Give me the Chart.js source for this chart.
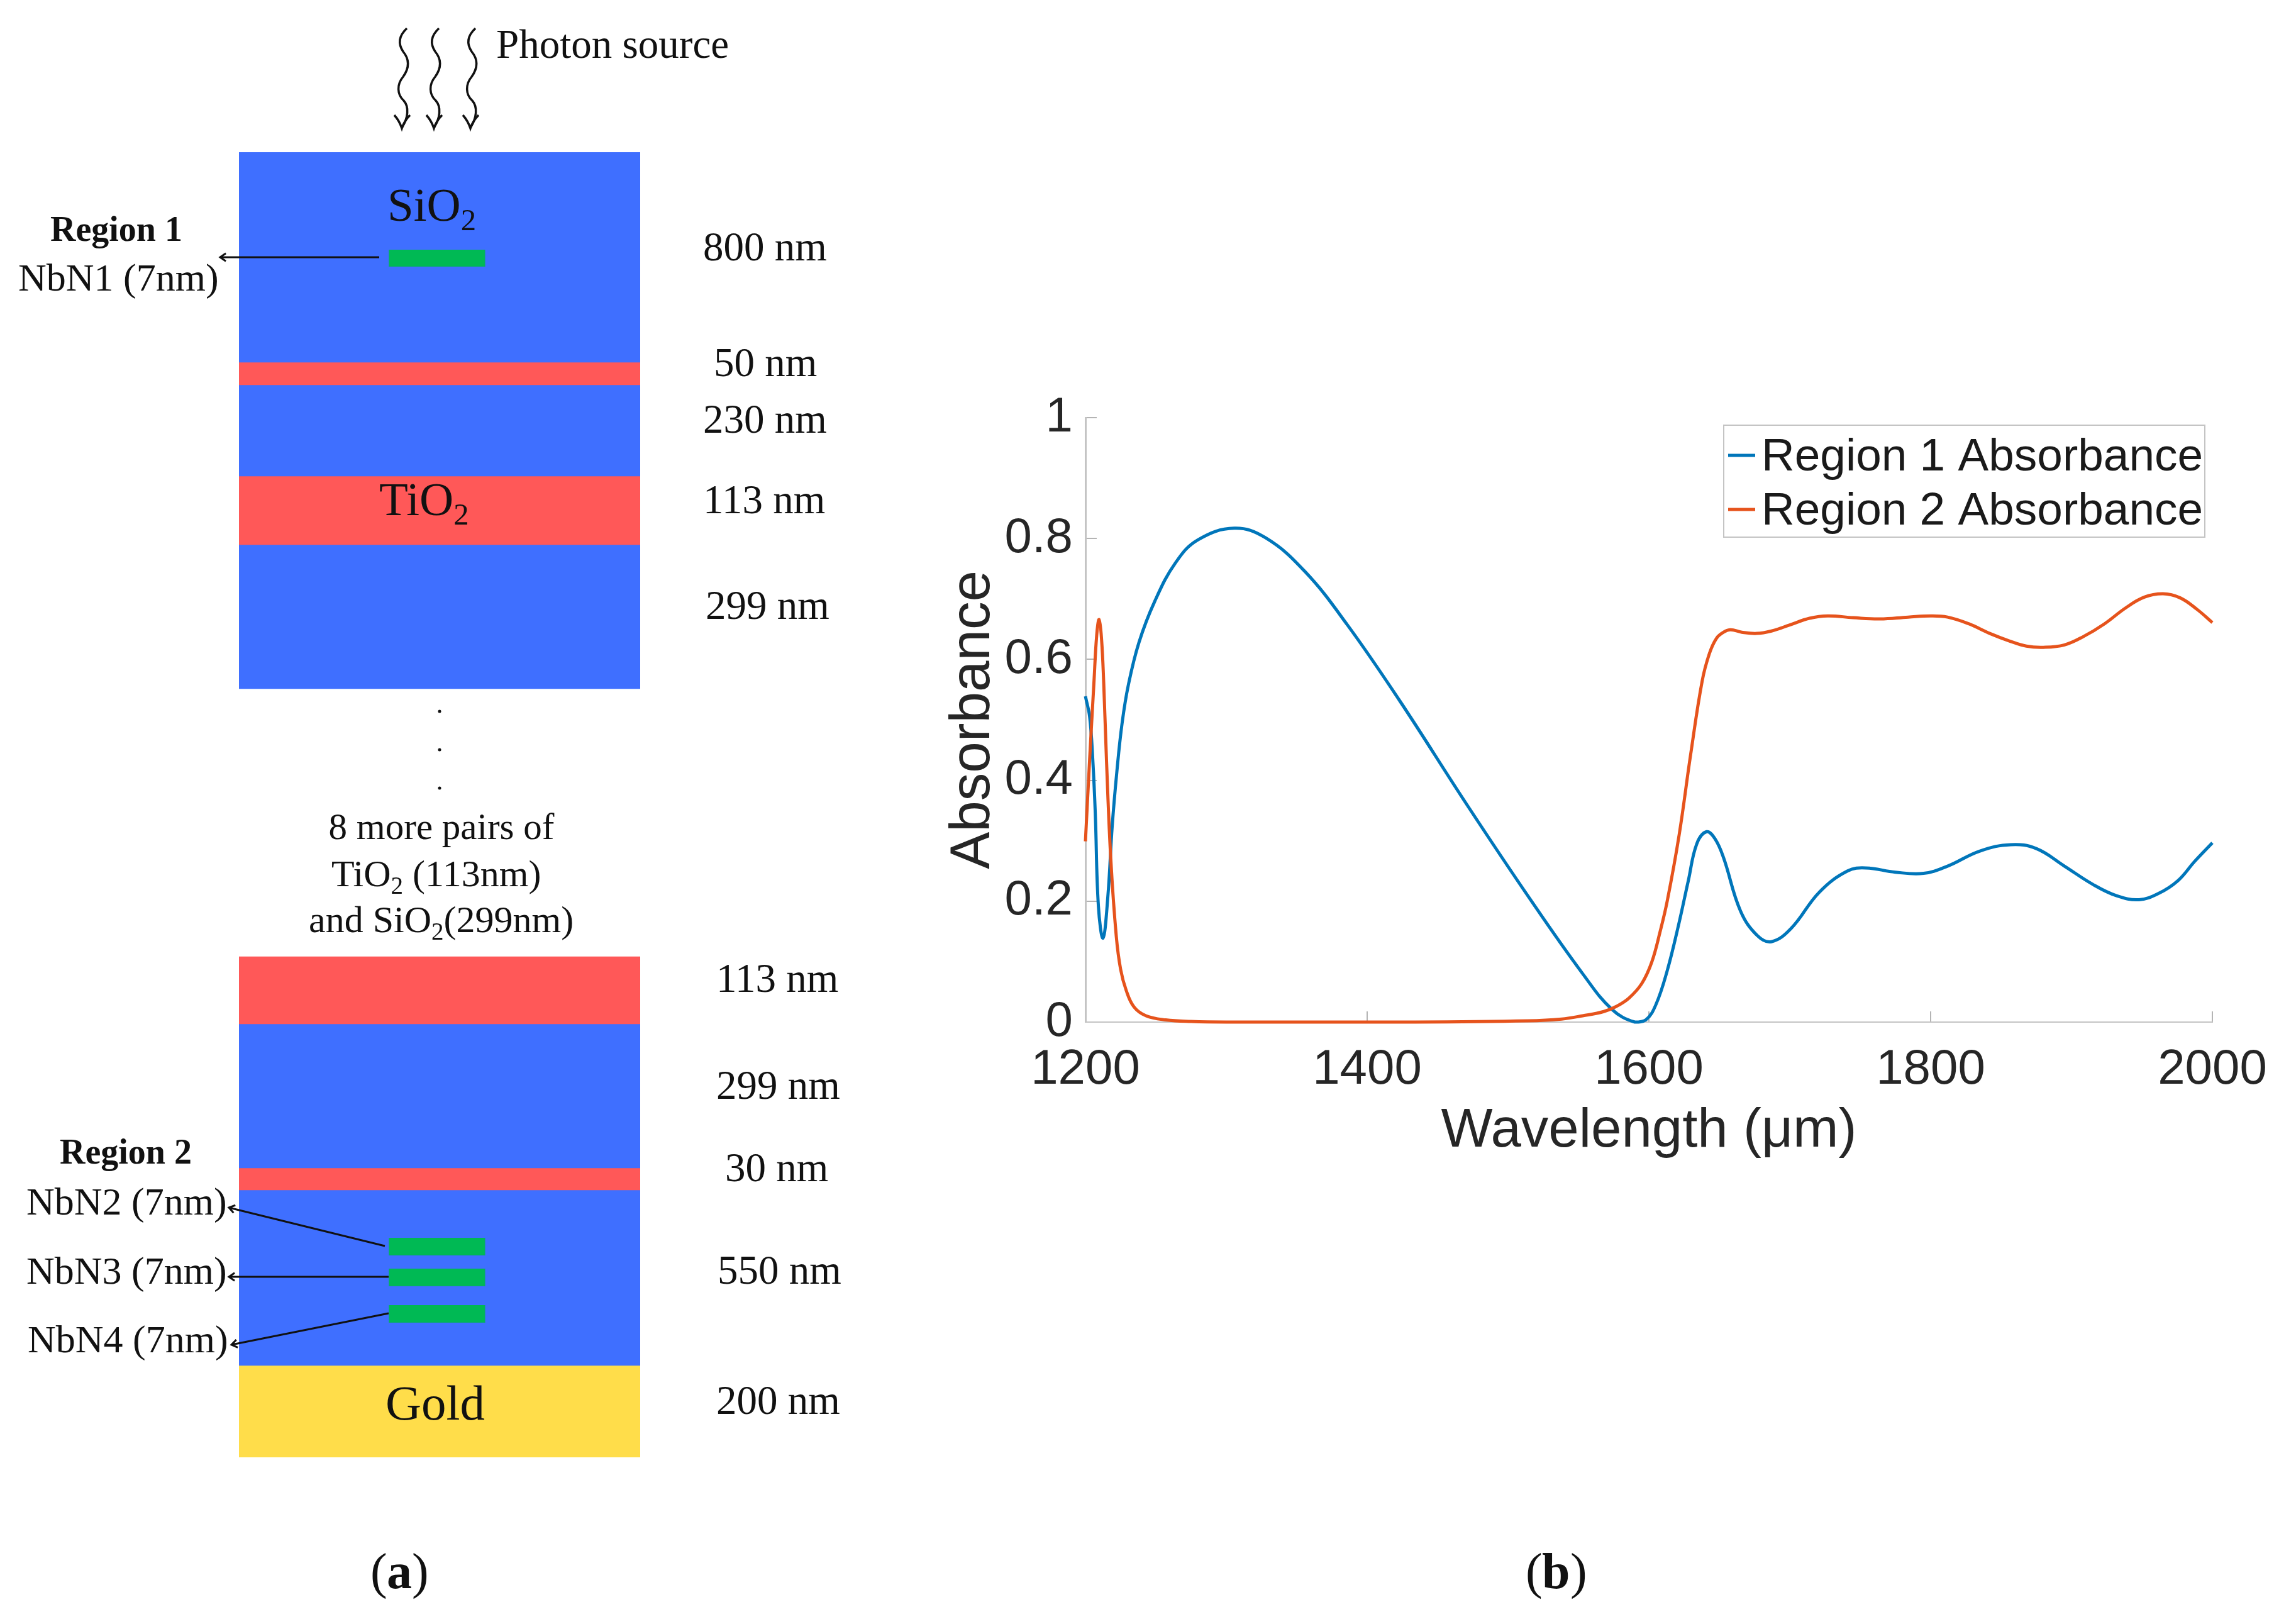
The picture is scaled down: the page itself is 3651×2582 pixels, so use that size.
<!DOCTYPE html>
<html>
<head>
<meta charset="utf-8">
<title>Absorber stack and absorbance</title>
<script src="https://cdn.jsdelivr.net/npm/chart.js@4"></script>
<style>
html, body { margin: 0; padding: 0; background: #fff; overflow: hidden; }
canvas { position: absolute; top: 0; display: block; }
#stack-area { left: 0; }
#curve-area { left: 1500px; }
</style>
</head>
<body>
<canvas id="stack-area" width="1500" height="2582"></canvas>
<canvas id="curve-area" width="2151" height="2582"></canvas>
<script>
// absorbance
var region1Wavelength = [1200,1203,1205.2,1207,1209.2,1212.5,1215.9,1219,1222.3,1226,1230.5,1238,1249,1264,1280,1305.7,1328,1356,1386,1423,1471,1515.8,1553,1573.8,1590,1598,1605,1613,1621,1628,1634,1641,1647,1653,1665,1677,1687,1701,1721,1741,1754,1775,1795,1812,1835,1857,1875,1895,1915,1932,1948,1962,1975.6,1987.5,2000];
var region1Absorbance = [0.539,0.505,0.435,0.345,0.192,0.139,0.207,0.324,0.414,0.494,0.558,0.628,0.695,0.76,0.798,0.817,0.801,0.745,0.657,0.532,0.359,0.203,0.08,0.021,0,0.004,0.029,0.085,0.16,0.234,0.295,0.315,0.303,0.272,0.184,0.143,0.133,0.155,0.215,0.25,0.255,0.248,0.246,0.258,0.283,0.2935,0.287,0.258,0.228,0.209,0.2025,0.213,0.234,0.266,0.2966];
var region2Wavelength = [1200,1203,1206,1208,1209.7,1211.4,1213,1215,1218,1221.9,1225,1229,1234.5,1243,1257,1275,1300,1434,1514,1538,1553,1568,1577,1586,1595,1602,1608,1613,1621.5,1629.6,1637.8,1643,1648,1653,1658,1666,1676.5,1687,1700,1714,1727,1745,1764,1784,1800,1812,1827,1842,1856.5,1868,1880,1895,1908.6,1923.5,1938.3,1951.7,1965,1977,1989,2000];
var region2Absorbance = [0.299,0.435,0.56,0.64,0.666,0.635,0.56,0.43,0.27,0.142,0.087,0.052,0.025,0.0104,0.0036,0.001,0,0,0.002,0.005,0.0104,0.0174,0.026,0.04,0.064,0.099,0.15,0.2,0.31,0.442,0.564,0.61,0.635,0.645,0.649,0.645,0.643,0.647,0.657,0.668,0.672,0.669,0.667,0.67,0.672,0.67,0.659,0.643,0.63,0.622,0.62,0.624,0.638,0.659,0.685,0.703,0.7086,0.702,0.683,0.661];
var seriesNames = ['Region 1 Absorbance', 'Region 2 Absorbance'];
var xTitle = 'Wavelength (μm)';
var yTitle = 'Absorbance';

// layer stack of panel (a), depth as drawn from the top of the stack (not to scale with nm)
var layerNames = ['SiO2','TiO2','SiO2','TiO2','SiO2','TiO2','SiO2','TiO2','SiO2','Gold'];
var layerTops = [0,334,370,515,624,1279,1386,1615,1650,1929];
var layerBottoms = [334,370,515,624,853,1386,1615,1650,1929,2075];
var nbnNames = ['NbN1','NbN2','NbN3','NbN4'];
var nbnTops = [155,1726,1775,1833];
var nbnBottoms = [182,1754,1803,1861];

var materialColors = { SiO2: '#3F6FFF', TiO2: '#FF5858', Gold: '#FFDD4A' };
var serif = '"Liberation Serif", serif';
var sans = '"Liberation Sans", Arial, sans-serif';

function pairUp(xs, ys) {
    return xs.map(function (x, i) { return { x: x, y: ys[i] }; });
}

function label(ctx, text, x, y, size, bold, align) {
    ctx.font = (bold ? 'bold ' : '') + size + 'px ' + serif;
    ctx.textAlign = align || 'left';
    ctx.textBaseline = 'alphabetic';
    ctx.fillStyle = '#111';
    ctx.fillText(text, x, y);
}

// text with a subscript 2, runs are [text, isSub]
function runs(ctx, parts, x, y, size) {
    parts.forEach(function (p) {
        var s = p[1] ? size * 0.65 : size;
        label(ctx, p[0], x, p[1] ? y + size * 0.2 : y, s);
        x += ctx.measureText(p[0]).width;
    });
}

function arrow(ctx, x1, y1, x2, y2) {
    var a = Math.atan2(y2 - y1, x2 - x1);
    ctx.strokeStyle = '#111';
    ctx.lineWidth = 3;
    ctx.beginPath();
    ctx.moveTo(x1, y1);
    ctx.lineTo(x2, y2);
    ctx.moveTo(x2 - 11 * Math.cos(a - 0.6), y2 - 11 * Math.sin(a - 0.6));
    ctx.lineTo(x2, y2);
    ctx.lineTo(x2 - 11 * Math.cos(a + 0.6), y2 - 11 * Math.sin(a + 0.6));
    ctx.stroke();
}

function wave(ctx, x) {
    ctx.strokeStyle = '#111';
    ctx.lineWidth = 3.5;
    ctx.beginPath();
    ctx.moveTo(x + 6, 45);
    ctx.bezierCurveTo(x - 8, 58, x - 8, 70, x, 82);
    ctx.bezierCurveTo(x + 10, 94, x + 10, 108, x, 122);
    ctx.bezierCurveTo(x - 10, 134, x - 10, 150, x + 1, 160);
    ctx.bezierCurveTo(x + 10, 170, x + 8, 188, x - 2, 203);
    ctx.stroke();
    ctx.beginPath();
    ctx.moveTo(x - 14, 183);
    ctx.quadraticCurveTo(x - 6, 192, x - 2, 204);
    ctx.quadraticCurveTo(x + 2, 192, x + 11, 183);
    ctx.stroke();
}

var stackNotes = {
    id: 'stackNotes',
    afterDraw: function (chart) {
        var ctx = chart.ctx;
        ctx.save();
        wave(ctx, 641);
        wave(ctx, 692);
        wave(ctx, 750);
        label(ctx, 'Photon source', 789, 92, 65);

        runs(ctx, [['SiO', 0], ['2', 1]], 616, 351, 75);
        runs(ctx, [['TiO', 0], ['2', 1]], 603, 819, 75);
        label(ctx, 'Gold', 613, 2257, 79);

        label(ctx, 'Region 1', 185, 383, 56, true, 'center');
        label(ctx, 'NbN1 (7nm)', 29, 462, 62);
        label(ctx, 'Region 2', 95, 1850, 56, true);
        label(ctx, 'NbN2 (7nm)', 42, 1931, 62);
        label(ctx, 'NbN3 (7nm)', 42, 2041, 62);
        label(ctx, 'NbN4 (7nm)', 44, 2150, 62);

        arrow(ctx, 603, 409, 350, 409);
        arrow(ctx, 612, 1981, 364, 1920);
        arrow(ctx, 618, 2030, 364, 2030);
        arrow(ctx, 618, 2088, 368, 2138);

        label(ctx, '800 nm', 1118, 414, 65);
        label(ctx, '50 nm', 1135, 598, 65);
        label(ctx, '230 nm', 1118, 688, 65);
        label(ctx, '113 nm', 1118, 816, 65);
        label(ctx, '299 nm', 1122, 984, 65);
        label(ctx, '113 nm', 1139, 1577, 65);
        label(ctx, '299 nm', 1139, 1747, 65);
        label(ctx, '30 nm', 1153, 1878, 65);
        label(ctx, '550 nm', 1141, 2041, 65);
        label(ctx, '200 nm', 1139, 2248, 65);

        ctx.fillStyle = '#111';
        [1131, 1192, 1253].forEach(function (y) {
            ctx.beginPath();
            ctx.arc(699, y, 2.5, 0, Math.PI * 2);
            ctx.fill();
        });

        label(ctx, '8 more pairs of', 702, 1334, 59, false, 'center');
        runs(ctx, [['TiO', 0], ['2', 1], [' (113nm)', 0]], 527, 1409, 60);
        runs(ctx, [['and SiO', 0], ['2', 1], ['(299nm)', 0]], 491, 1482, 60);

        label(ctx, '(', 589, 2525, 80);
        label(ctx, 'a', 615, 2525, 80, true);
        label(ctx, ')', 655, 2525, 80);
        ctx.restore();
    }
};

var layerSets = layerNames.map(function (name, i) {
    return {
        label: name,
        data: [{ x: 0, y: [layerTops[i], layerBottoms[i]] }],
        backgroundColor: materialColors[name],
        barThickness: 638
    };
});
var nbnSets = nbnNames.map(function (name, i) {
    return {
        label: name,
        data: [{ x: -0.007, y: [nbnTops[i], nbnBottoms[i]] }],
        backgroundColor: '#00B954',
        borderColor: '#0FA37A',
        borderWidth: 1,
        barThickness: 153
    };
});

var stackConfig = {
    type: 'bar',
    // first dataset is painted last, so the NbN strips go before the layers
    data: { datasets: nbnSets.concat(layerSets) },
    plugins: [stackNotes],
    options: {
        responsive: false,
        animation: false,
        grouped: false,
        layout: { padding: { left: 380, right: 482, top: 242, bottom: 265 } },
        plugins: { legend: { display: false }, tooltip: { enabled: false } },
        scales: {
            x: { type: 'linear', min: -0.5, max: 0.5, display: false },
            y: { type: 'linear', min: 0, max: 2075, reverse: true, display: false }
        }
    }
};

// legend box and panel label for the right chart
var curveNotes = {
    id: 'curveNotes',
    afterDraw: function (chart) {
        var ctx = chart.ctx;
        ctx.save();
        ctx.fillStyle = '#fff';
        ctx.strokeStyle = '#c4c4c4';
        ctx.lineWidth = 2;
        ctx.fillRect(1241, 676, 765, 178);
        ctx.strokeRect(1241, 676, 765, 178);
        chart.data.datasets.forEach(function (set, i) {
            var y = 724 + i * 86;
            ctx.strokeStyle = set.borderColor;
            ctx.lineWidth = 5;
            ctx.beginPath();
            ctx.moveTo(1248, y);
            ctx.lineTo(1291, y);
            ctx.stroke();
            ctx.font = '73px ' + sans;
            ctx.textAlign = 'left';
            ctx.textBaseline = 'alphabetic';
            ctx.fillStyle = '#1a1a1a';
            ctx.fillText(set.label, 1301, y + 24);
        });
        label(ctx, '(', 926, 2525, 80);
        label(ctx, 'b', 952, 2525, 80, true);
        label(ctx, ')', 997, 2525, 80);
        ctx.restore();
    }
};

function plainTick(value) {
    return String(value);
}

var curveConfig = {
    type: 'line',
    data: {
        datasets: [{
            label: seriesNames[0],
            data: pairUp(region1Wavelength, region1Absorbance),
            borderColor: '#0076BA',
            backgroundColor: '#0076BA',
            borderWidth: 5,
            pointRadius: 0,
            tension: 0.4,
            clip: false,
            order: 1
        }, {
            label: seriesNames[1],
            data: pairUp(region2Wavelength, region2Absorbance),
            borderColor: '#E6531C',
            backgroundColor: '#E6531C',
            borderWidth: 5,
            pointRadius: 0,
            tension: 0.4,
            clip: false,
            order: 0
        }]
    },
    plugins: [curveNotes],
    options: {
        responsive: false,
        animation: false,
        layout: { padding: { left: 0, right: 133, top: 664, bottom: 731 } },
        plugins: { legend: { display: false }, tooltip: { enabled: false } },
        scales: {
            x: {
                type: 'linear',
                min: 1200,
                max: 2000,
                grid: { drawOnChartArea: false, tickLength: -17, color: '#b4b4b4', lineWidth: 2 },
                border: { color: '#c4c4c4', width: 2 },
                ticks: { stepSize: 200, maxRotation: 0, autoSkip: false, padding: 47, color: '#262626', font: { family: sans, size: 78 }, callback: plainTick },
                title: { display: true, text: xTitle, color: '#262626', padding: 0, font: { family: sans, size: 87 } },
                afterFit: function (scale) {
                    scale.height = 226;
                    scale.paddingLeft = 0;
                    scale.paddingRight = 0;
                }
            },
            y: {
                min: 0,
                max: 1,
                grid: { drawOnChartArea: false, tickLength: -18, color: '#b4b4b4', lineWidth: 2 },
                border: { color: '#c4c4c4', width: 3 },
                ticks: { stepSize: 0.2, autoSkip: false, padding: 38, color: '#262626', font: { family: sans, size: 78 }, callback: plainTick },
                title: { display: true, text: yTitle, color: '#262626', padding: 0, font: { family: sans, size: 89, lineHeight: 1.09 } },
                afterFit: function (scale) {
                    scale.width = 226;
                    scale.paddingTop = 0;
                    scale.paddingBottom = 0;
                }
            }
        }
    }
};

var stackChart = new Chart(document.getElementById('stack-area').getContext('2d'), stackConfig);
var curveChart = new Chart(document.getElementById('curve-area').getContext('2d'), curveConfig);
</script>
</body>
</html>
